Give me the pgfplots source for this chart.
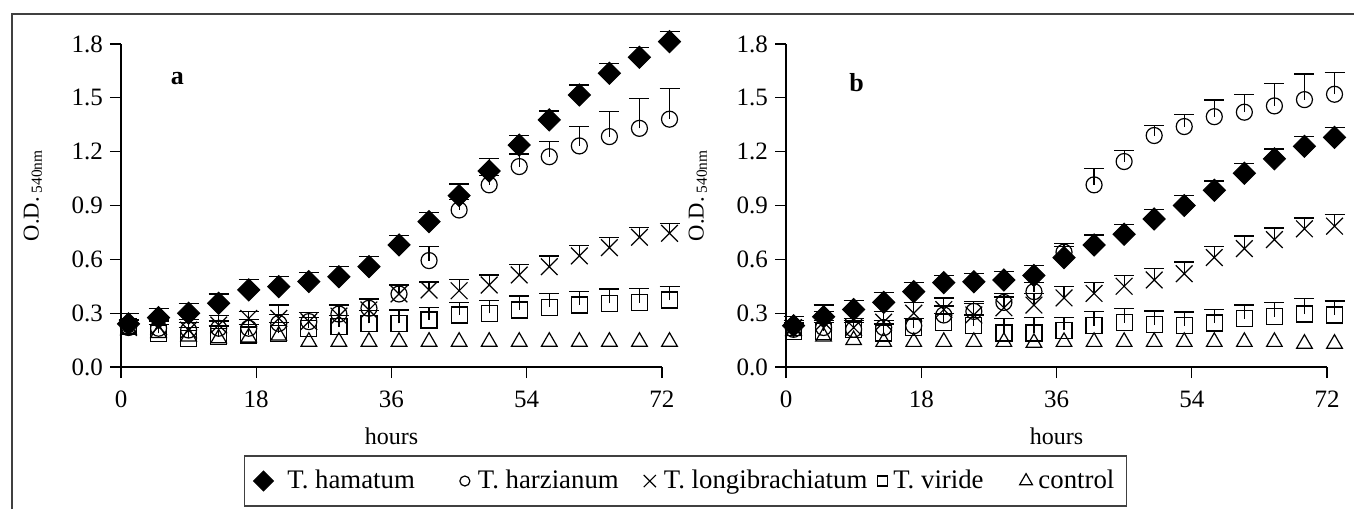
\documentclass[border=0pt]{standalone}
\usepackage{fontspec}
\setmainfont{Liberation Serif}
\usepackage{pgfplots}
\pgfplotsset{compat=1.18}
\usepackage{pgfplotstable}

% columns: hour, mean and upper error for each strain
\pgfplotstableread{
h  ham   hame  har   hare  lon   lone  vir   vire  con
1  0.240 0.060 0.220 0.040 0.220 0.040 0.225 0.040 0.210
5  0.275 0.050 0.216 0.040 0.225 0.040 0.188 0.050 0.190
9  0.300 0.056 0.206 0.040 0.206 0.060 0.160 0.060 0.170
13 0.355 0.052 0.216 0.040 0.234 0.055 0.169 0.060 0.160
17 0.430 0.056 0.216 0.050 0.271 0.040 0.178 0.060 0.165
21 0.448 0.055 0.243 0.050 0.271 0.075 0.188 0.060 0.175
25 0.476 0.052 0.253 0.050 0.253 0.050 0.216 0.060 0.141
29 0.503 0.056 0.295 0.050 0.284 0.060 0.225 0.060 0.141
33 0.559 0.056 0.327 0.050 0.318 0.065 0.243 0.070 0.141
37 0.680 0.055 0.407 0.050 0.407 0.050 0.243 0.075 0.141
41 0.810 0.050 0.593 0.080 0.429 0.045 0.262 0.070 0.141
45 0.955 0.065 0.875 0.060 0.425 0.063 0.290 0.068 0.141
49 1.092 0.070 1.015 0.050 0.457 0.056 0.299 0.070 0.141
53 1.237 0.052 1.117 0.070 0.513 0.056 0.318 0.078 0.141
57 1.377 0.050 1.172 0.084 0.559 0.060 0.333 0.078 0.141
61 1.516 0.056 1.232 0.108 0.619 0.060 0.346 0.074 0.141
65 1.637 0.056 1.284 0.139 0.665 0.058 0.355 0.080 0.141
69 1.726 0.054 1.330 0.167 0.723 0.056 0.358 0.080 0.141
73 1.813 0.056 1.381 0.169 0.745 0.056 0.373 0.075 0.141
}\dataA

\pgfplotstableread{
h  ham   hame  har   hare  lon   lone  vir   vire  con
1  0.230 0.050 0.210 0.040 0.220 0.040 0.200 0.040 0.200
5  0.280 0.066 0.220 0.040 0.250 0.060 0.200 0.050 0.170
9  0.320 0.050 0.210 0.040 0.220 0.050 0.210 0.050 0.150
13 0.360 0.054 0.220 0.040 0.250 0.060 0.190 0.050 0.140
17 0.420 0.050 0.230 0.040 0.300 0.060 0.220 0.050 0.140
21 0.470 0.040 0.290 0.050 0.320 0.065 0.250 0.050 0.140
25 0.475 0.045 0.310 0.055 0.290 0.065 0.230 0.060 0.140
29 0.485 0.046 0.360 0.050 0.330 0.060 0.190 0.080 0.140
33 0.510 0.055 0.420 0.050 0.345 0.065 0.190 0.085 0.135
37 0.610 0.060 0.640 0.050 0.385 0.065 0.205 0.070 0.140
41 0.680 0.056 1.015 0.089 0.410 0.060 0.230 0.080 0.140
45 0.740 0.055 1.145 0.060 0.450 0.060 0.247 0.080 0.140
49 0.825 0.054 1.290 0.057 0.485 0.065 0.235 0.077 0.140
53 0.900 0.055 1.340 0.068 0.520 0.065 0.230 0.077 0.140
57 0.985 0.052 1.395 0.093 0.610 0.060 0.245 0.077 0.140
61 1.080 0.055 1.420 0.100 0.660 0.070 0.270 0.076 0.140
65 1.160 0.055 1.455 0.126 0.710 0.065 0.280 0.078 0.140
69 1.230 0.054 1.490 0.143 0.770 0.060 0.295 0.085 0.130
73 1.280 0.054 1.520 0.123 0.785 0.065 0.290 0.078 0.130
}\dataB

\pgfplotsset{
  odaxis/.style={
    scale only axis, width=270.5pt, height=161.5pt,
    xmin=0, xmax=72, ymin=0, ymax=1.8,
    axis lines=left, axis line style={-, line width=0.6pt},
    xtick={0,18,36,54,72}, ytick={0,0.3,0.6,0.9,1.2,1.5,1.8},
    tick align=outside, major tick length=5.5pt,
    tick style={line width=0.6pt, black},
    yticklabel style={/pgf/number format/.cd, fixed, fixed zerofill, precision=1},
    xticklabel style={yshift=-3pt},
    /pgf/number format/assume math mode=true,
    tick label style={font=\fontsize{12.5}{14}\selectfont},
    label style={font=\fontsize{12}{14}\selectfont},
    xlabel=hours,
    ylabel={\fontsize{11.3}{13}\selectfont O.D.\,\raisebox{-0.3ex}{\fontsize{7.7}{9}\selectfont 540nm}},
    xlabel style={at={(axis description cs:0.5,-0.214)}, anchor=center},
    ylabel style={at={(axis description cs:-0.163,0.53)}, anchor=center},
    clip=false,
  },
  errs/.style={
    /pgfplots/error bars/y dir=plus, /pgfplots/error bars/y explicit,
    /pgfplots/error bars/error bar style={line width=0.6pt, black},
    /pgfplots/error bars/error mark options={rotate=90, black, mark size=5pt, line width=0.6pt},
  },
  % one mark per legend image, no invisible line around it
  onemark/.style={legend image code/.code={\draw[##1] plot coordinates {(0pt,0pt)};}},
  ham/.style={black, only marks, mark=square*, mark size=3.9pt,
    mark options={rotate=45, fill=black, line width=0.5pt}, onemark,
    legend image post style={mark size=3.5pt}},
  har/.style={black, only marks, mark=o, mark size=4pt, onemark,
    mark options={line width=0.6pt}, legend image post style={mark size=2.5pt}},
  lon/.style={black, only marks, mark=x, mark size=5.9pt, onemark,
    mark options={line width=0.6pt}, legend image post style={mark size=4.3pt}},
  vir/.style={black, only marks, mark=square, mark size=4pt, onemark,
    mark options={line width=0.6pt}, legend image post style={mark size=2.5pt}},
  con/.style={black, only marks, mark=triangle, mark size=4.5pt, onemark,
    mark options={line width=0.6pt}, legend image post style={mark size=3.7pt}},
}

\begin{document}
\begin{tikzpicture}
\useasboundingbox (0,0) rectangle (677pt,254.5pt);

\begin{axis}[odaxis, at={(60.5pt,71pt)}, anchor=south west]
  \addplot[con] table[x=h, y=con] {\dataA};
  \addplot[vir, errs] table[x=h, y=vir, y error=vire] {\dataA};
  \addplot[lon, errs] table[x=h, y=lon, y error=lone] {\dataA};
  \addplot[har, errs] table[x=h, y=har, y error=hare] {\dataA};
  \addplot[ham, errs] table[x=h, y=ham, y error=hame] {\dataA};
  \node[font=\bfseries\fontsize{13}{15}\selectfont] at (axis cs:7.5,1.605) {a};
\end{axis}

\begin{axis}[odaxis, at={(393pt,71pt)}, anchor=south west]
  \addplot[con] table[x=h, y=con] {\dataB};
  \addplot[vir, errs] table[x=h, y=vir, y error=vire] {\dataB};
  \addplot[lon, errs] table[x=h, y=lon, y error=lone] {\dataB};
  \addplot[har, errs] table[x=h, y=har, y error=hare] {\dataB};
  \addplot[ham, errs] table[x=h, y=ham, y error=hame] {\dataB};
  \node[font=\bfseries\fontsize{13}{15}\selectfont] at (axis cs:9.4,1.585) {b};
\end{axis}

% legend drawn by a hidden axis so the entries keep the reference order
\begin{axis}[odaxis, at={(60.5pt,71pt)}, anchor=south west, hide axis,
    legend columns=5, legend cell align=left,
    legend style={at={(1.0434,-0.353)}, anchor=center, draw=darkgray,
      line width=0.8pt, font=\fontsize{13.4}{15}\selectfont,
      inner xsep=4.5pt, inner ysep=5pt, nodes={inner xsep=1.5pt},
      /tikz/column 1/.style={column sep=5.5pt},
      /tikz/column 2/.style={column sep=21pt},
      /tikz/column 3/.style={column sep=2.5pt},
      /tikz/column 4/.style={column sep=11pt},
      /tikz/column 5/.style={column sep=2.5pt},
      /tikz/column 6/.style={column sep=3.5pt},
      /tikz/column 7/.style={column sep=1.5pt},
      /tikz/column 8/.style={column sep=16.5pt},
      /tikz/column 9/.style={column sep=1.5pt}}]
  \addlegendimage{ham}
  \addlegendentry{T. hamatum}
  \addlegendimage{har}
  \addlegendentry{T. harzianum}
  \addlegendimage{lon}
  \addlegendentry{T. longibrachiatum}
  \addlegendimage{vir}
  \addlegendentry{T. viride}
  \addlegendimage{con}
  \addlegendentry{control}
\end{axis}

\draw[darkgray, line width=0.8pt] (6pt,0) -- (6pt,247.5pt) -- (677pt,247.5pt);
\end{tikzpicture}
\end{document}
